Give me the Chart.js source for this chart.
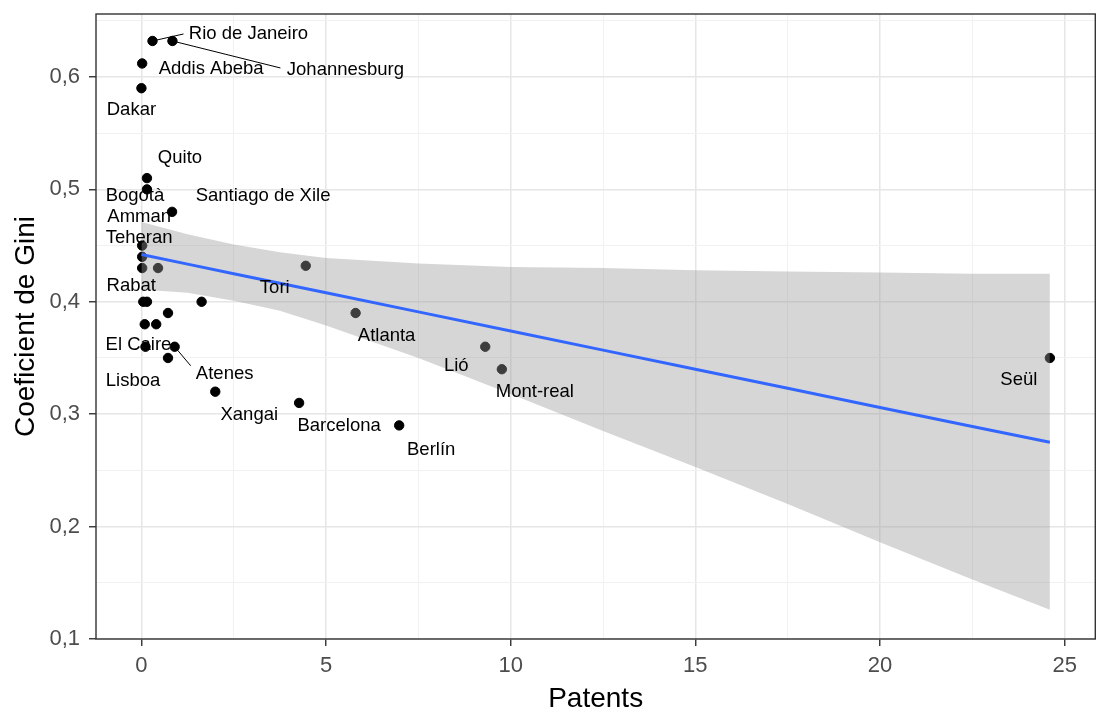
<!DOCTYPE html>
<html>
<head>
<meta charset="utf-8">
<script src="https://cdn.jsdelivr.net/npm/chart.js@4"></script>
<style>
  body { margin: 0; background: #fff; overflow: hidden; }
  #wrap { width: 1096px; height: 713px; overflow: hidden; }
</style>
</head>
<body>
<div id="wrap"><canvas id="gini" width="1101" height="713"></canvas></div>
<script>
// cities, patents (x) and Gini coefficient (y)
const cities = ["Rio de Janeiro", "Johannesburg", "Addis Abeba", "Dakar", "Quito", "Bogotà",
  "Santiago de Xile", "Amman", "Teheran", "", "", "Tori", "Rabat", "", "", "", "", "",
  "El Caire", "Atenes", "Lisboa", "Xangai", "Barcelona", "Berlín", "Atlanta", "Lió",
  "Mont-real", "Seül"];
const patents = [0.3, 0.84, 0.02, 0, 0.15, 0.15, 0.83, 0.02, 0.02, 0.02, 0.45, 4.45, 0.05,
  0.15, 1.63, 0.72, 0.09, 0.4, 0.11, 0.9, 0.72, 2.0, 4.27, 6.98, 5.8, 9.31, 9.76, 24.6];
const gini = [0.632, 0.632, 0.612, 0.59, 0.51, 0.50, 0.48, 0.45, 0.44, 0.43, 0.43, 0.432, 0.40,
  0.40, 0.40, 0.39, 0.38, 0.38, 0.36, 0.36, 0.35, 0.32, 0.31, 0.29, 0.39, 0.36, 0.34, 0.35];

// linear fit and its confidence band
const fitX = [0, 1.25, 2.5, 3.75, 5, 7.5, 10, 12.5, 15, 17.5, 20, 22.5, 24.6];
const fitY = [0.442, 0.4335, 0.425, 0.4165, 0.408, 0.391, 0.374, 0.357, 0.340, 0.323, 0.306, 0.289, 0.275];
const bandUpper = [0.471, 0.460, 0.451, 0.444, 0.439, 0.434, 0.431, 0.430, 0.428, 0.427, 0.426, 0.425, 0.425];
const bandLower = [0.411, 0.408, 0.401, 0.392, 0.379, 0.350, 0.318, 0.285, 0.253, 0.220, 0.186, 0.153, 0.126];

const xTicks = [0, 5, 10, 15, 20, 25];
const xMinor = [2.5, 7.5, 12.5, 17.5, 22.5];
const yTicks = [0.1, 0.2, 0.3, 0.4, 0.5, 0.6];
const yMinor = [0.15, 0.25, 0.35, 0.45, 0.55, 0.65];

// label placement (pixel offsets from the point), segment ends where ggrepel drew one
const labelPos = {
  "Rio de Janeiro": { dx: 96, dy: -7, seg: [31, -7] },
  "Johannesburg": { dx: 173, dy: 29, seg: [108, 27] },
  "Addis Abeba": { dx: 69, dy: 5 },
  "Dakar": { dx: -10, dy: 22 },
  "Quito": { dx: 33, dy: -20 },
  "Bogotà": { dx: -12, dy: 7 },
  "Santiago de Xile": { dx: 91, dy: -16 },
  "Amman": { dx: -3, dy: -29 },
  "Teheran": { dx: -3, dy: -19 },
  "Tori": { dx: -31, dy: 22 },
  "Rabat": { dx: -12, dy: -16 },
  "El Caire": { dx: -7, dy: -2 },
  "Atenes": { dx: 50, dy: 27, seg: [16, 19] },
  "Lisboa": { dx: -35, dy: 23 },
  "Xangai": { dx: 34, dy: 23 },
  "Barcelona": { dx: 40, dy: 23 },
  "Berlín": { dx: 32, dy: 24 },
  "Atlanta": { dx: 31, dy: 23 },
  "Lió": { dx: -29, dy: 19 },
  "Mont-real": { dx: 33, dy: 23 },
  "Seül": { dx: -31, dy: 22 }
};

const FONT = "'Liberation Sans', Arial, sans-serif";

const isMajor = (v, list) => list.some(t => Math.abs(t - v) < 1e-6);

const cityLabels = {
  id: "cityLabels",
  afterDatasetsDraw(chart) {
    const ctx = chart.ctx;
    const meta = chart.getDatasetMeta(0);
    ctx.save();
    ctx.font = "18.5px " + FONT;
    ctx.textAlign = "center";
    ctx.textBaseline = "middle";
    ctx.fillStyle = "#000";
    ctx.strokeStyle = "#000";
    ctx.lineWidth = 1;
    meta.data.forEach((pt, i) => {
      const p = labelPos[cities[i]];
      if (!p) return;
      if (p.seg) {
        ctx.beginPath();
        ctx.moveTo(pt.x, pt.y);
        ctx.lineTo(pt.x + p.seg[0], pt.y + p.seg[1]);
        ctx.stroke();
      }
      ctx.fillText(cities[i], pt.x + p.dx, pt.y + p.dy);
    });
    ctx.restore();
  }
};

const panelBorder = {
  id: "panelBorder",
  afterDraw(chart) {
    const { ctx, chartArea: a } = chart;
    ctx.save();
    ctx.strokeStyle = "#333333";
    ctx.lineWidth = 1.4;
    ctx.strokeRect(a.left, a.top, a.right - a.left, a.bottom - a.top);
    ctx.restore();
  }
};

new Chart("gini", {
  type: "scatter",
  data: {
    datasets: [
      {
        data: patents.map((x, i) => ({ x: x, y: gini[i] })),
        backgroundColor: "#000",
        borderColor: "#000",
        pointRadius: 4.7,
        pointHoverRadius: 4.7,
        order: 3
      },
      {
        type: "line",
        data: fitX.map((x, i) => ({ x: x, y: bandUpper[i] })),
        borderWidth: 0,
        pointRadius: 0,
        fill: false,
        order: 2
      },
      {
        type: "line",
        data: fitX.map((x, i) => ({ x: x, y: bandLower[i] })),
        borderWidth: 0,
        pointRadius: 0,
        fill: 1,
        backgroundColor: "rgba(153,153,153,0.4)",
        order: 2
      },
      {
        type: "line",
        data: fitX.map((x, i) => ({ x: x, y: fitY[i] })),
        borderColor: "#3366FF",
        borderWidth: 3,
        pointRadius: 0,
        fill: false,
        order: 0
      }
    ]
  },
  options: {
    responsive: false,
    animation: false,
    devicePixelRatio: 1,
    layout: { padding: { top: 14, right: 1, left: 0, bottom: 0 } },
    plugins: { legend: { display: false }, tooltip: { enabled: false } },
    scales: {
      x: {
        type: "linear",
        min: -1.23,
        max: 25.83,
        afterBuildTicks: s => { s.ticks = xTicks.concat(xMinor).map(v => ({ value: v })); },
        afterFit: s => { s.height = 74; s.paddingLeft = 0; s.paddingRight = 0; },
        border: { display: false },
        grid: {
          color: c => isMajor(c.tick.value, xTicks) ? "#e6e6e6" : "#f1f1f1",
          lineWidth: c => isMajor(c.tick.value, xTicks) ? 1.5 : 1,
          tickColor: c => isMajor(c.tick.value, xTicks) ? "#333333" : "rgba(0,0,0,0)",
          tickLength: 7,
          tickWidth: 1.4
        },
        ticks: {
          autoSkip: false,
          maxRotation: 0,
          padding: 7,
          color: "#4d4d4d",
          font: { family: FONT, size: 22 },
          callback: v => isMajor(v, xTicks) ? String(v) : ""
        },
        title: {
          display: true,
          text: "Patents",
          color: "#000",
          font: { family: FONT, size: 28, lineHeight: 1 },
          padding: { top: 0, bottom: 0 }
        }
      },
      y: {
        type: "linear",
        min: 0.1,
        max: 0.656,
        afterBuildTicks: s => { s.ticks = yTicks.concat(yMinor).map(v => ({ value: v })); },
        afterFit: s => { s.width = 96; s.paddingTop = 0; s.paddingBottom = 0; },
        border: { display: false },
        grid: {
          color: c => isMajor(c.tick.value, yTicks) ? "#e6e6e6" : "#f1f1f1",
          lineWidth: c => isMajor(c.tick.value, yTicks) ? 1.5 : 1,
          tickColor: c => isMajor(c.tick.value, yTicks) ? "#333333" : "rgba(0,0,0,0)",
          tickLength: 7,
          tickWidth: 1.4
        },
        ticks: {
          autoSkip: false,
          padding: 9,
          color: "#4d4d4d",
          font: { family: FONT, size: 22 },
          callback: v => isMajor(v, yTicks) ? v.toFixed(1).replace(".", ",") : ""
        },
        title: {
          display: true,
          text: "Coeficient de Gini",
          color: "#000",
          font: { family: FONT, size: 28, lineHeight: 1 },
          padding: { top: 12, bottom: 0 }
        }
      }
    }
  },
  plugins: [cityLabels, panelBorder]
});
</script>
</body>
</html>
